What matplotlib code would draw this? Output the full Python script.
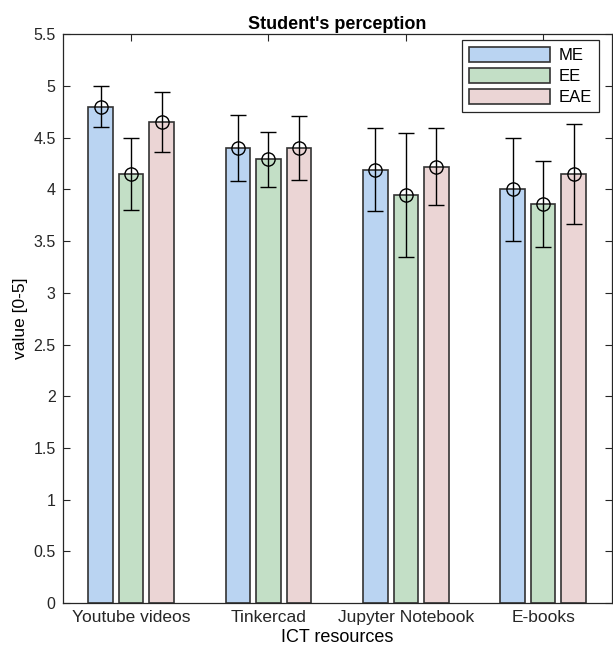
import matplotlib
matplotlib.use("Agg")
import matplotlib.pyplot as plt
import numpy as np

plt.rcParams['font.family'] = ['Liberation Sans', 'DejaVu Sans']

categories = ["Youtube videos", "Tinkercad", "Jupyter Notebook", "E-books"]
groups = ["ME", "EE", "EAE"]
means_ME = [4.80, 4.40, 4.19, 4.00]
means_EE = [4.15, 4.29, 3.95, 3.86]
means_EAE = [4.65, 4.40, 4.22, 4.15]
err_ME = [0.20, 0.32, 0.40, 0.50]
err_EE = [0.35, 0.27, 0.60, 0.42]
err_EAE = [0.29, 0.31, 0.37, 0.48]

means = [means_ME, means_EE, means_EAE]
errs = [err_ME, err_EE, err_EAE]
colors = ["#BAD4F2", "#C3DFC6", "#EBD5D5"]

fig = plt.figure(figsize=(6.13, 6.49), dpi=100)
ax = fig.add_axes([0.102, 0.071, 0.896, 0.876])

x = np.arange(1, len(categories) + 1)
offsets = [-0.222, 0.0, 0.222]
width = 0.178
for m, e, c, off, g in zip(means, errs, colors, offsets, groups):
    ax.bar(x + off, m, width=width, color=c, edgecolor="#333333", linewidth=1.2, label=g, zorder=2)
    ax.errorbar(x + off, m, yerr=e, fmt='o', mfc='none', mec='black', ms=9.5, mew=1.0,
                ecolor='black', elinewidth=1.0, capsize=6, capthick=1.0, zorder=3)

ax.set_xlim(0.5, 4.5)
ax.set_ylim(0, 5.5)
ax.set_yticks(np.arange(0, 5.51, 0.5))
ax.set_yticklabels(["0", "0.5", "1", "1.5", "2", "2.5", "3", "3.5", "4", "4.5", "5", "5.5"])
ax.set_xticks(x)
ax.set_xticklabels(categories)
ax.tick_params(direction='in', top=True, right=True, length=5, width=0.8, colors='#262626')
ax.tick_params(axis='y', labelsize=11.5, pad=5)
ax.tick_params(axis='x', labelsize=12.5, pad=5)
for sp in ax.spines.values():
    sp.set_linewidth(0.9)
    sp.set_color('#262626')
ax.set_xlabel("ICT resources", fontsize=13, labelpad=3)
ax.set_ylabel("value [0-5]", fontsize=12.5, labelpad=4)
ax.set_title("Student's perception", fontsize=13, fontweight='bold', pad=4)

leg = ax.legend(loc='upper right', bbox_to_anchor=(0.976, 0.990), borderaxespad=0,
                fontsize=12, handlelength=4.9, handleheight=1.0,
                labelspacing=0.3, handletextpad=0.5, borderpad=0.4, fancybox=False,
                edgecolor='#262626', framealpha=1)
leg.get_frame().set_linewidth(0.9)

fig.savefig("out.png", dpi=100)
